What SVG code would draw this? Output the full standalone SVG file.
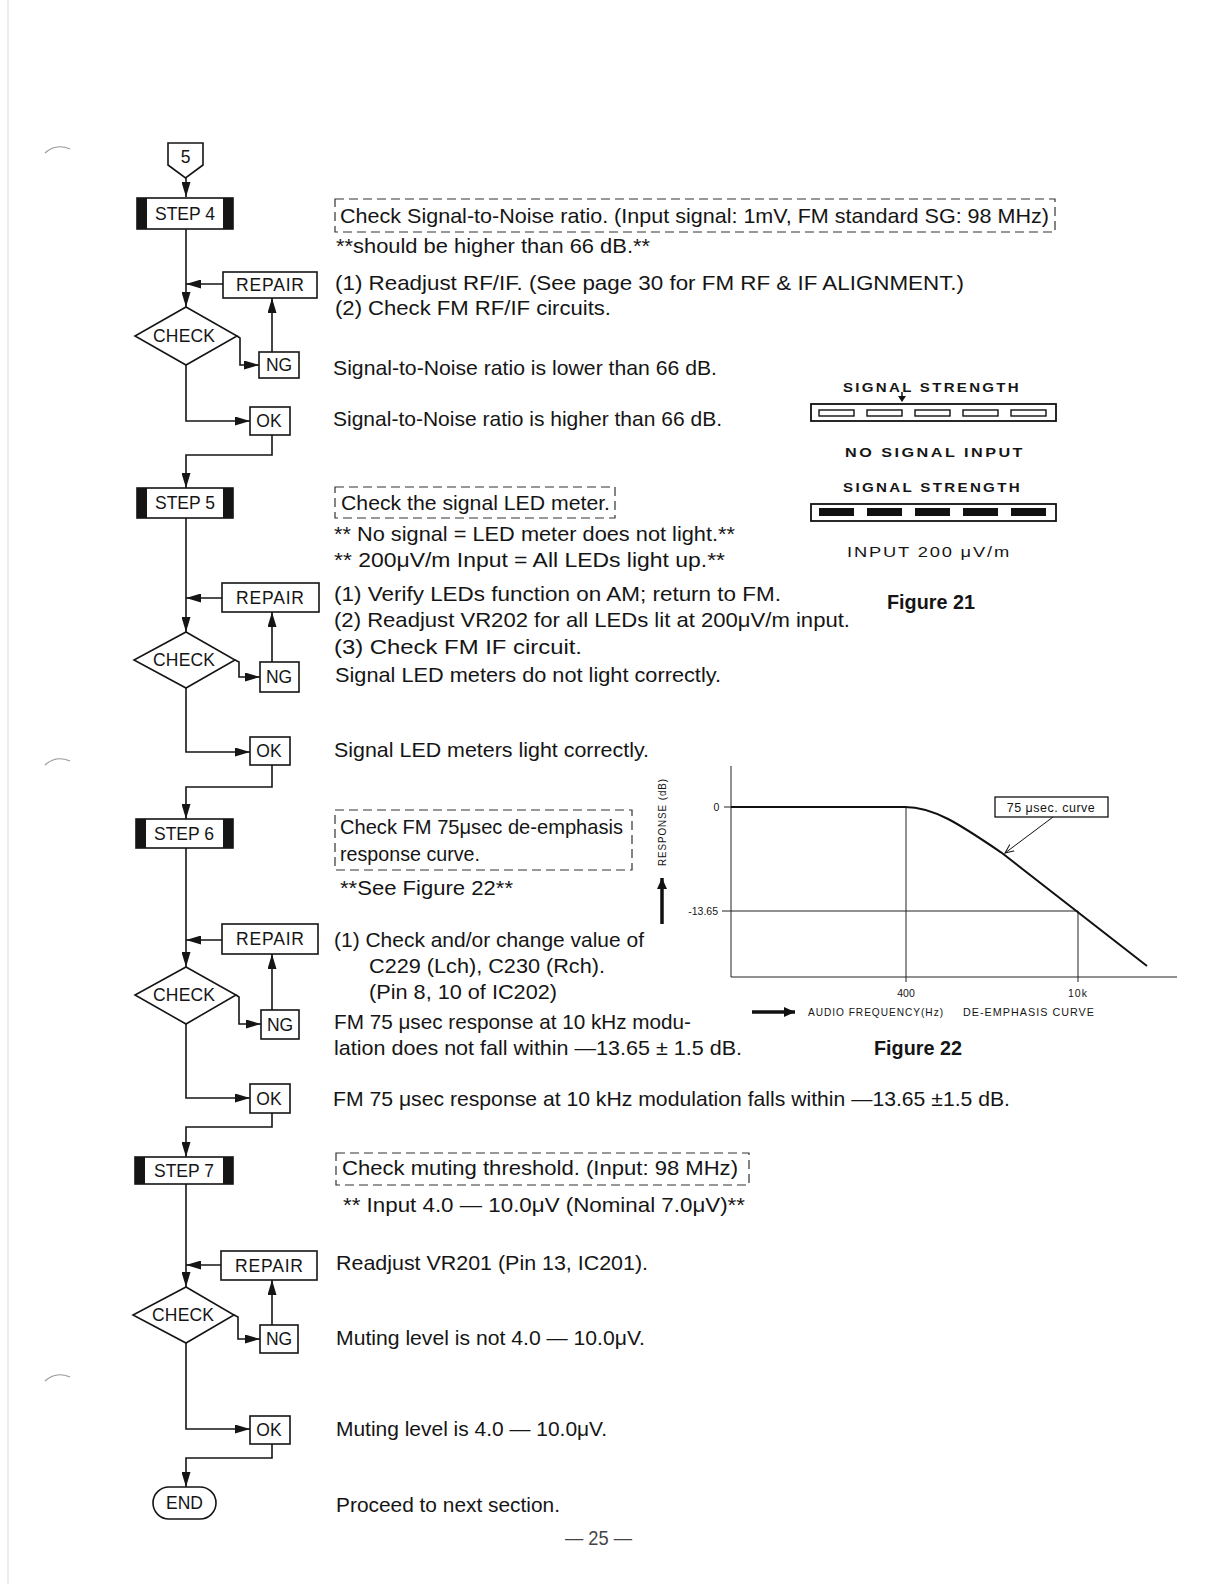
<svg xmlns="http://www.w3.org/2000/svg" width="1225" height="1584" viewBox="0 0 1225 1584">
<style>
text{font-family:"Liberation Sans",Arial,sans-serif;fill:#151515}
.b{font-size:21px}
.lbl{font-size:17.5px;text-anchor:middle}
.box{fill:#fff;stroke:#151515;stroke-width:1.6}
.bar{fill:#151515}
.c{fill:none;stroke:#151515;stroke-width:1.6}
.dash{fill:none;stroke:#333;stroke-width:1.2;stroke-dasharray:9 5}
.fig{font-size:20px;font-weight:bold}
.sm{font-size:13px;font-weight:bold;letter-spacing:2px}
.ax{font-size:10.5px;letter-spacing:1px}
.thin{fill:none;stroke:#222;stroke-width:1}
.thick{fill:none;stroke:#111;stroke-width:2}
</style>
<defs>
<marker id="ah" markerUnits="userSpaceOnUse" markerWidth="15" markerHeight="9" refX="15" refY="4.5" orient="auto">
<path d="M0,0 L15,4.5 L0,9 z" fill="#151515"/>
</marker>
<marker id="ah2" markerUnits="userSpaceOnUse" markerWidth="12" markerHeight="10" refX="11" refY="5" orient="auto">
<path d="M0,0 L11,5 L0,10 z" fill="#111"/>
</marker>
<marker id="ah3" markerUnits="userSpaceOnUse" markerWidth="10" markerHeight="10" refX="9" refY="5" orient="auto">
<path d="M0,1 L9,5 L0,9" fill="none" stroke="#111" stroke-width="1"/>
</marker>
</defs>
<rect width="1225" height="1584" fill="#fff"/>

<!-- scan margin marks -->
<g fill="none" stroke="#999" stroke-width="1.2">
<line x1="8" y1="0" x2="8" y2="1584" stroke="#e2e2e2"/>
<path d="M45,153 Q56,143 70,149"/>
<path d="M45,765 Q56,755 70,761"/>
<path d="M45,1381 Q56,1371 70,1377"/>
</g>

<!-- connectors -->
<g id="connectors" class="c">
<path d="M186,178 V197" marker-end="url(#ah)"/>
<path d="M186,229 V307" marker-end="url(#ah)"/>
<path d="M223,284 H186" marker-end="url(#ah)"/>
<path d="M237,336 L240,338 V365 H259" marker-end="url(#ah)"/>
<path d="M272,352 V298" marker-end="url(#ah)"/>
<path d="M186,365 V421 H250" marker-end="url(#ah)"/>
<path d="M272,435 V455 H186 V488" marker-end="url(#ah)"/>

<path d="M186,518 V632" marker-end="url(#ah)"/>
<path d="M222,598 H186" marker-end="url(#ah)"/>
<path d="M235,660 L239,662 V677 H260" marker-end="url(#ah)"/>
<path d="M272,662 V612" marker-end="url(#ah)"/>
<path d="M186,688 V752 H250" marker-end="url(#ah)"/>
<path d="M272,765 V787 H186 V819" marker-end="url(#ah)"/>

<path d="M186,848 V967" marker-end="url(#ah)"/>
<path d="M222,940 H186" marker-end="url(#ah)"/>
<path d="M236,995 L239,997 V1024 H261" marker-end="url(#ah)"/>
<path d="M272,1010 V954" marker-end="url(#ah)"/>
<path d="M186,1024 V1098 H250" marker-end="url(#ah)"/>
<path d="M272,1113 V1127 H186 V1157" marker-end="url(#ah)"/>

<path d="M186,1184 V1287" marker-end="url(#ah)"/>
<path d="M221,1265 H186" marker-end="url(#ah)"/>
<path d="M234,1315 L238,1317 V1339 H260" marker-end="url(#ah)"/>
<path d="M272,1325 V1280" marker-end="url(#ah)"/>
<path d="M186,1343 V1429 H250" marker-end="url(#ah)"/>
<path d="M272,1444 V1458 H186 V1487" marker-end="url(#ah)"/>
</g>

<!-- start connector -->
<g id="start5">
<path class="box" d="M168,143 H203 V165 L185.5,178 L168,165 Z"/>
<text class="lbl" x="185.5" y="163">5</text>
</g>

<!-- STEP 4 -->
<g id="step4">
<rect class="box" x="137" y="198" width="96" height="31"/>
<rect class="bar" x="137" y="198" width="10" height="31"/>
<rect class="bar" x="223" y="198" width="10" height="31"/>
<text class="lbl" x="185" y="220">STEP 4</text>
</g>
<g id="repair4"><rect class="box" x="223" y="272" width="94" height="26"/><text class="lbl" x="270" y="291" textLength="68" lengthAdjust="spacing">REPAIR</text></g>
<g id="check4"><polygon class="box" points="186,307 237,336 186,365 135,336"/><text class="lbl" x="184" y="342" textLength="62" lengthAdjust="spacing">CHECK</text></g>
<g id="ng4"><rect class="box" x="259" y="352" width="40" height="26"/><text class="lbl" x="279" y="371">NG</text></g>
<g id="ok4"><rect class="box" x="250" y="407" width="40" height="28"/><text class="lbl" x="269" y="427">OK</text></g>

<!-- STEP 5 -->
<g id="step5">
<rect class="box" x="137" y="488" width="96" height="30"/>
<rect class="bar" x="137" y="488" width="10" height="30"/>
<rect class="bar" x="223" y="488" width="10" height="30"/>
<text class="lbl" x="185" y="509">STEP 5</text>
</g>
<g id="repair5"><rect class="box" x="222" y="583" width="97" height="29"/><text class="lbl" x="270" y="604" textLength="68" lengthAdjust="spacing">REPAIR</text></g>
<g id="check5"><polygon class="box" points="186,632 235,660 186,688 134,660"/><text class="lbl" x="184" y="666" textLength="62" lengthAdjust="spacing">CHECK</text></g>
<g id="ng5"><rect class="box" x="260" y="662" width="39" height="30"/><text class="lbl" x="279" y="683">NG</text></g>
<g id="ok5"><rect class="box" x="250" y="737" width="40" height="28"/><text class="lbl" x="269" y="757">OK</text></g>

<!-- STEP 6 -->
<g id="step6">
<rect class="box" x="136" y="819" width="97" height="29"/>
<rect class="bar" x="136" y="819" width="10" height="29"/>
<rect class="bar" x="223" y="819" width="10" height="29"/>
<text class="lbl" x="184" y="840">STEP 6</text>
</g>
<g id="repair6"><rect class="box" x="222" y="924" width="96" height="30"/><text class="lbl" x="270" y="945" textLength="68" lengthAdjust="spacing">REPAIR</text></g>
<g id="check6"><polygon class="box" points="186,967 236,995 186,1024 135,995"/><text class="lbl" x="184" y="1001" textLength="62" lengthAdjust="spacing">CHECK</text></g>
<g id="ng6"><rect class="box" x="261" y="1010" width="38" height="29"/><text class="lbl" x="280" y="1031">NG</text></g>
<g id="ok6"><rect class="box" x="250" y="1084" width="40" height="29"/><text class="lbl" x="269" y="1105">OK</text></g>

<!-- STEP 7 -->
<g id="step7">
<rect class="box" x="135" y="1157" width="98" height="27"/>
<rect class="bar" x="135" y="1157" width="10" height="27"/>
<rect class="bar" x="223" y="1157" width="10" height="27"/>
<text class="lbl" x="184" y="1177">STEP 7</text>
</g>
<g id="repair7"><rect class="box" x="221" y="1251" width="96" height="29"/><text class="lbl" x="269" y="1272" textLength="68" lengthAdjust="spacing">REPAIR</text></g>
<g id="check7"><polygon class="box" points="186,1287 234,1315 186,1343 133,1315"/><text class="lbl" x="183" y="1321" textLength="62" lengthAdjust="spacing">CHECK</text></g>
<g id="ng7"><rect class="box" x="260" y="1325" width="38" height="28"/><text class="lbl" x="279" y="1345">NG</text></g>
<g id="ok7"><rect class="box" x="250" y="1416" width="40" height="28"/><text class="lbl" x="269" y="1436">OK</text></g>

<g id="end"><rect class="box" x="153" y="1487" width="63" height="32" rx="16"/><text class="lbl" x="184.5" y="1509">END</text></g>

<!-- Step 4 texts -->
<g id="text4">
<rect class="dash" x="335" y="199" width="720" height="33"/>
<text class="b" x="340" y="223" textLength="709" lengthAdjust="spacingAndGlyphs">Check Signal-to-Noise ratio.  (Input signal: 1mV, FM standard SG: 98 MHz)</text>
<text class="b" x="336" y="253" textLength="314" lengthAdjust="spacingAndGlyphs">**should be higher than 66 dB.**</text>
<text class="b" x="335" y="290" textLength="629" lengthAdjust="spacingAndGlyphs">(1) Readjust RF/IF.  (See page 30 for FM RF &amp; IF ALIGNMENT.)</text>
<text class="b" x="335" y="315" textLength="276" lengthAdjust="spacingAndGlyphs">(2) Check FM RF/IF circuits.</text>
<text class="b" x="333" y="375" textLength="384" lengthAdjust="spacingAndGlyphs">Signal-to-Noise ratio is lower than 66 dB.</text>
<text class="b" x="333" y="426" textLength="389" lengthAdjust="spacingAndGlyphs">Signal-to-Noise ratio is higher than 66 dB.</text>
</g>

<!-- Step 5 texts -->
<g id="text5">
<rect class="dash" x="335" y="487" width="280" height="31"/>
<text class="b" x="341" y="510" textLength="269" lengthAdjust="spacingAndGlyphs">Check the signal LED meter.</text>
<text class="b" x="334" y="541" textLength="401" lengthAdjust="spacingAndGlyphs">** No signal = LED meter does not light.**</text>
<text class="b" x="334" y="567" textLength="391" lengthAdjust="spacingAndGlyphs">** 200μV/m Input = All LEDs light up.**</text>
<text class="b" x="334" y="601" textLength="447" lengthAdjust="spacingAndGlyphs">(1) Verify LEDs function on AM; return to FM.</text>
<text class="b" x="334" y="627" textLength="516" lengthAdjust="spacingAndGlyphs">(2) Readjust VR202 for all LEDs lit at 200μV/m input.</text>
<text class="b" x="334" y="654" textLength="248" lengthAdjust="spacingAndGlyphs">(3) Check FM IF circuit.</text>
<text class="b" x="335" y="682" textLength="386" lengthAdjust="spacingAndGlyphs">Signal LED meters do not light correctly.</text>
<text class="b" x="334" y="757" textLength="315" lengthAdjust="spacingAndGlyphs">Signal LED meters light correctly.</text>
</g>

<!-- Figure 21 -->
<g id="figure21">
<text class="sm" x="843" y="392" textLength="178" lengthAdjust="spacingAndGlyphs">SIGNAL STRENGTH</text>
<path d="M902,392 V398" stroke="#111" stroke-width="1.5"/>
<path d="M898,396 L902,402 L906,396 z" fill="#111"/>
<rect x="811" y="404" width="245" height="17" fill="#fff" stroke="#111" stroke-width="1.8"/>
<g fill="#fff" stroke="#111" stroke-width="1.4">
<rect x="819" y="410" width="35" height="6"/>
<rect x="867" y="410" width="35" height="6"/>
<rect x="915" y="410" width="35" height="6"/>
<rect x="963" y="410" width="35" height="6"/>
<rect x="1011" y="410" width="35" height="6"/>
</g>
<text class="sm" x="845" y="457" textLength="180" lengthAdjust="spacingAndGlyphs">NO SIGNAL INPUT</text>
<text class="sm" x="843" y="492" textLength="179" lengthAdjust="spacingAndGlyphs">SIGNAL STRENGTH</text>
<rect x="811" y="504" width="245" height="17" fill="#fff" stroke="#111" stroke-width="1.8"/>
<g fill="#111">
<rect x="819" y="508" width="35" height="8"/>
<rect x="867" y="508" width="35" height="8"/>
<rect x="915" y="508" width="35" height="8"/>
<rect x="963" y="508" width="35" height="8"/>
<rect x="1011" y="508" width="35" height="8"/>
</g>
<text x="847" y="557" textLength="164" lengthAdjust="spacingAndGlyphs" style="font-size:15px;letter-spacing:1.5px">INPUT  200 μV/m</text>
<text class="fig" x="887" y="609" textLength="88" lengthAdjust="spacingAndGlyphs">Figure 21</text>
</g>

<!-- Step 6 texts -->
<g id="text6">
<rect class="dash" x="335" y="810" width="297" height="60"/>
<text class="b" x="340" y="834" textLength="283" lengthAdjust="spacingAndGlyphs">Check FM 75μsec de-emphasis</text>
<text class="b" x="340" y="861" textLength="140" lengthAdjust="spacingAndGlyphs">response curve.</text>
<text class="b" x="340" y="895" textLength="173" lengthAdjust="spacingAndGlyphs">**See Figure 22**</text>
<text class="b" x="334" y="947" textLength="310" lengthAdjust="spacingAndGlyphs">(1) Check and/or change value of</text>
<text class="b" x="369" y="973" textLength="236" lengthAdjust="spacingAndGlyphs">C229 (Lch), C230 (Rch).</text>
<text class="b" x="369" y="999" textLength="188" lengthAdjust="spacingAndGlyphs">(Pin 8, 10 of IC202)</text>
<text class="b" x="334" y="1029" textLength="357" lengthAdjust="spacingAndGlyphs">FM 75 μsec response at 10 kHz modu-</text>
<text class="b" x="334" y="1055" textLength="408" lengthAdjust="spacingAndGlyphs">lation does not fall within —13.65 ± 1.5 dB.</text>
<text class="b" x="333" y="1106" textLength="677" lengthAdjust="spacingAndGlyphs">FM 75 μsec response at 10 kHz modulation falls within —13.65 ±1.5 dB.</text>
</g>

<!-- Figure 22 -->
<g id="figure22">
<text class="ax" transform="translate(666,866) rotate(-90)" textLength="88" lengthAdjust="spacingAndGlyphs">RESPONSE (dB)</text>
<path d="M662,924 V878" stroke="#111" stroke-width="3.5" fill="none" marker-end="url(#ah2)"/>
<path class="thin" d="M731,766 V977 H1177"/>
<path class="thin" d="M906,807 V982"/>
<path class="thin" d="M722,911 H1078 V982"/>
<path class="thin" d="M724,807 H731"/>
<path class="thick" d="M731,807 H905 C935,807 962,826 1002,853 L1147,966"/>
<text class="ax" x="717" y="811" text-anchor="middle">0</text>
<text class="ax" x="718" y="915" text-anchor="end" style="letter-spacing:0">-13.65</text>
<text class="ax" x="906" y="997" text-anchor="middle" style="letter-spacing:0">400</text>
<text class="ax" x="1078" y="997" text-anchor="middle">10k</text>
<rect x="995" y="797" width="113" height="20" fill="#fff" stroke="#111" stroke-width="1.3"/>
<text x="1051" y="812" text-anchor="middle" style="font-size:12.5px;letter-spacing:0.5px">75 μsec. curve</text>
<path d="M1053,817 L1005,853" stroke="#111" stroke-width="1" fill="none" marker-end="url(#ah3)"/>
<path d="M752,1012 H795" stroke="#111" stroke-width="3.5" fill="none" marker-end="url(#ah2)"/>
<text class="ax" x="808" y="1016" textLength="136" lengthAdjust="spacingAndGlyphs">AUDIO FREQUENCY(Hz)</text>
<text class="ax" x="963" y="1016" textLength="132" lengthAdjust="spacingAndGlyphs">DE-EMPHASIS CURVE</text>
<text class="fig" x="874" y="1055" textLength="88" lengthAdjust="spacingAndGlyphs">Figure 22</text>
</g>

<!-- Step 7 texts -->
<g id="text7">
<rect class="dash" x="336" y="1153" width="413" height="32"/>
<text class="b" x="342" y="1175" textLength="396" lengthAdjust="spacingAndGlyphs">Check muting threshold.  (Input: 98 MHz)</text>
<text class="b" x="343" y="1212" textLength="402" lengthAdjust="spacingAndGlyphs">** Input 4.0 — 10.0μV (Nominal 7.0μV)**</text>
<text class="b" x="336" y="1270" textLength="312" lengthAdjust="spacingAndGlyphs">Readjust VR201 (Pin 13, IC201).</text>
<text class="b" x="336" y="1345" textLength="309" lengthAdjust="spacingAndGlyphs">Muting level is not 4.0 — 10.0μV.</text>
<text class="b" x="336" y="1436" textLength="271" lengthAdjust="spacingAndGlyphs">Muting level is 4.0 — 10.0μV.</text>
<text class="b" x="336" y="1512" textLength="224" lengthAdjust="spacingAndGlyphs">Proceed to next section.</text>
<text class="b" x="565" y="1545" textLength="67" lengthAdjust="spacingAndGlyphs" style="fill:#444">— 25 —</text>
</g>
</svg>
